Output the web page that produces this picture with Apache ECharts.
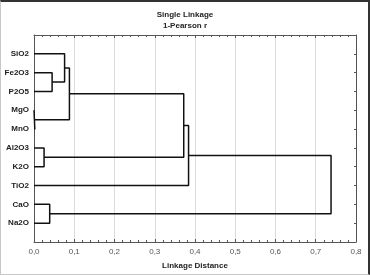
<!DOCTYPE html>
<html>
<head>
<meta charset="utf-8">
<script src="https://cdn.jsdelivr.net/npm/echarts@6/dist/echarts.min.js"></script>
<style>
    html, body { margin: 0; padding: 0; background: #fff; }
    #chart { position: absolute; left: 0; top: 0; width: 370px; height: 275px; }
    #frame {
        position: absolute; left: 0; top: 0; width: 370px; height: 275px;
        box-sizing: border-box; pointer-events: none;
        border-top: 2px solid #333; border-right: 2px solid #333;
        border-left: 1px solid #c8c8c8; border-bottom: 1px solid #c8c8c8;
    }
</style>
</head>
<body>
<div id="chart"></div>
<div id="frame"></div>
<script>
// leaves in plotted order (top to bottom)
const leafNames = ['SiO2', 'Fe2O3', 'P2O5', 'MgO', 'MnO', 'Al2O3', 'K2O', 'TiO2', 'CaO', 'Na2O'];
// merges: child a, child b (leaf index or 10 + merge index), linkage distance
const mergeLeft = [3, 5, 8, 1, 0, 14, 15, 16, 17];
const mergeRight = [4, 6, 9, 2, 13, 10, 11, 7, 12];
const mergeHeight = [0.002, 0.025, 0.039, 0.045, 0.076, 0.088, 0.372, 0.384, 0.738];
const xTicks = [0, 0.1, 0.2, 0.3, 0.4, 0.5, 0.6, 0.7, 0.8];

const nodePos = leafNames.map((n, i) => i + 1);
const nodeHeight = leafNames.map(() => 0);
const segments = mergeLeft.map((a, i) => {
    const b = mergeRight[i];
    const h = mergeHeight[i];
    const pts = [
        [nodeHeight[a], nodePos[a]],
        [h, nodePos[a]],
        [h, nodePos[b]],
        [nodeHeight[b], nodePos[b]],
    ];
    nodePos.push((nodePos[a] + nodePos[b]) / 2);
    nodeHeight.push(h);
    return pts;
});

const axisColor = '#555';
const fmt = v => v.toFixed(1).replace('.', ',');

const chart = echarts.init(document.getElementById('chart'));
chart.setOption({
    animation: false,
    textStyle: { fontFamily: 'Liberation Sans, Arial, sans-serif' },
    title: {
        text: 'Single Linkage\n1-Pearson r',
        left: 'center',
        top: 4,
        textStyle: { fontSize: 8, fontWeight: 'bold', color: '#222', lineHeight: 11 },
    },
    grid: { left: 34, right: 14, top: 35, bottom: 30 },
    xAxis: [
        {
            type: 'value',
            min: xTicks[0],
            max: xTicks[xTicks.length - 1],
            interval: 0.1,
            position: 'bottom',
            name: 'Linkage Distance',
            nameLocation: 'middle',
            nameGap: 20,
            nameTextStyle: { fontSize: 8, fontWeight: 'bold', color: '#222' },
            axisLine: { onZero: false, lineStyle: { color: axisColor, width: 1 } },
            axisTick: { inside: true, length: 3, lineStyle: { color: axisColor } },
            minorTick: { show: true, splitNumber: 5, length: 2, lineStyle: { color: axisColor } },
            axisLabel: { fontSize: 8, color: '#555', margin: 6, formatter: fmt },
            splitLine: { show: true, lineStyle: { color: '#dcdcdc', width: 1 } },
        },
        {
            type: 'value',
            min: xTicks[0],
            max: xTicks[xTicks.length - 1],
            interval: 0.1,
            position: 'top',
            axisLine: { show: true, onZero: false, lineStyle: { color: axisColor, width: 1 } },
            axisTick: { inside: true, length: 3, lineStyle: { color: axisColor } },
            minorTick: { show: true, splitNumber: 5, length: 2, lineStyle: { color: axisColor } },
            axisLabel: { show: false },
            splitLine: { show: false },
        },
    ],
    yAxis: [
        {
            type: 'value',
            min: 0,
            max: leafNames.length + 1,
            interval: 1,
            inverse: true,
            position: 'left',
            axisLine: { show: true, onZero: false, lineStyle: { color: axisColor, width: 1 } },
            axisTick: { show: false },
            axisLabel: {
                fontSize: 8,
                fontWeight: 'bold',
                color: '#222',
                margin: 5,
                formatter: v => leafNames[v - 1] || '',
            },
            splitLine: { show: false },
        },
        {
            type: 'value',
            min: 0,
            max: leafNames.length + 1,
            interval: 1,
            inverse: true,
            position: 'right',
            axisLine: { show: true, onZero: false, lineStyle: { color: axisColor, width: 1 } },
            axisTick: { inside: true, length: 2, lineStyle: { color: axisColor } },
            axisLabel: { show: false },
            splitLine: { show: false },
        },
    ],
    series: segments.map(pts => ({
        type: 'line',
        xAxisIndex: 0,
        yAxisIndex: 0,
        data: pts,
        symbol: 'none',
        silent: true,
        lineStyle: { color: '#111', width: 1.5 },
    })),
});
</script>
</body>
</html>
